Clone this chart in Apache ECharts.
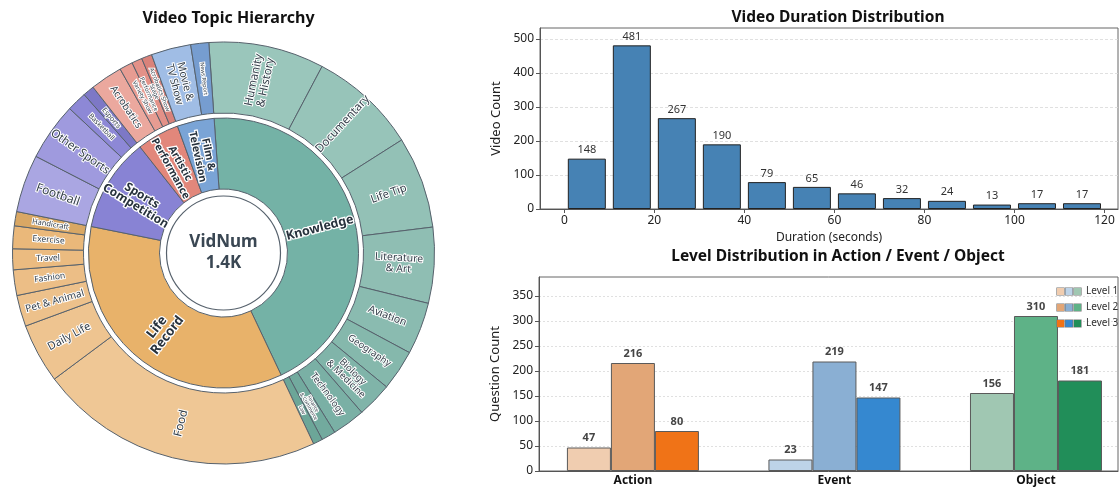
<!DOCTYPE html>
<html>
<head>
<meta charset="utf-8">
<script src="https://cdn.jsdelivr.net/npm/echarts@6/dist/echarts.min.js"></script>
<style>
  html, body { margin: 0; padding: 0; background: #fff; }
  #chart { width: 1119px; height: 491px; }
</style>
</head>
<body>
<div id="chart"></div>
<script>
// ---- Topic hierarchy (video counts per sub-topic) ----
const topicNames = ['Knowledge', 'Life\nRecord', 'Sports\nCompetition', 'Artistic\nPerformance', 'Film &\nTelevision'];

const knowledgeNames = ['Humanity\n& History', 'Documentary', 'Life Tip', 'Literature\n& Art', 'Aviation',
  'Geography', 'Biology\n& Medicine', 'Technology', 'Finance\n& Commerce', 'Law'];
const knowledgeCounts = [122, 114, 97, 80, 55, 43, 37, 35, 15, 10];

const lifeNames = ['Food', 'Daily Life', 'Pet & Animal', 'Fashion', 'Travel', 'Exercise', 'Handicraft'];
const lifeCounts = [301, 63, 33, 27, 22, 24, 15];

const sportsNames = ['Football', 'Other Sports', 'Basketball', 'Esports'];
const sportsCounts = [61, 61, 21, 12];

const artNames = ['Acrobatics', 'Variety Show', 'Stage\nPerformance', 'Acrobatics Show'];
const artCounts = [34, 14, 11, 11];

const filmNames = ['Movie &\nTV Show', 'News Report'];
const filmCounts = [42, 19];

// ---- Duration histogram ----
const durationBinCenters = [5, 15, 25, 35, 45, 55, 65, 75, 85, 95, 105, 115];
const durationCounts = [148, 481, 267, 190, 79, 65, 46, 32, 24, 13, 17, 17];
const durationTicks = [0, 20, 40, 60, 80, 100, 120];
const durationCountTicks = [0, 100, 200, 300, 400, 500];

// ---- Question levels per category ----
const levelCategories = ['Action', 'Event', 'Object'];
const levelNames = ['Level 1', 'Level 2', 'Level 3'];
const level1Counts = [47, 23, 156];
const level2Counts = [216, 219, 310];
const level3Counts = [80, 147, 181];
const questionTicks = [0, 50, 100, 150, 200, 250, 300, 350];

// ---- Styling ----
const FONT = "'Noto Sans', 'Open Sans', sans-serif";
const EDGE = '#56616c';
const INK = '#2f3a45';

const topicColors = ['#74b2a6', '#e8b26a', '#8883d4', '#e2877b', '#7aa4d6'];
const topicFont = [12.5, 13, 12, 10.5, 10.5];
const knowledgeColors = ['#9ac6bb', '#97c4b9', '#93c1b6', '#8fbeb3', '#8abbb0', '#85b8ac', '#80b4a9', '#7ab0a5', '#72aa9e', '#6ca698'];
const lifeColors = ['#efc795', '#eec490', '#edc18b', '#ecbe86', '#ebbb80', '#eab87a', '#d9a764'];
const sportsColors = ['#aaa6e2', '#9f9ade', '#8d88d6', '#7d78c6'];
const artColors = ['#eba89e', '#e79c92', '#e39188', '#d9827a'];
const filmColors = ['#a0bde5', '#769dd0'];

const knowledgeFont = [11.5, 11.5, 11, 10.5, 10.5, 9.5, 9.5, 9.5, 5, 5];
const lifeFont = [11.5, 11, 10, 8.5, 8.5, 8.5, 7.5];
const sportsFont = [12, 11.5, 7, 7];
const artFont = [10, 6, 6, 6];
const filmFont = [10.5, 5.5];

const levelColors = [
  ['#f0cdb0', '#bdd3e8', '#a0c7b2'],
  ['#e2a677', '#8aafd3', '#5eb287'],
  ['#f07317', '#3588d0', '#218e59']
];

function children(names, counts, colors, fonts) {
  return names.map((n, i) => ({
    name: n,
    value: counts[i],
    itemStyle: { color: colors[i] },
    label: { fontSize: fonts[i] }
  }));
}

const groups = [
  children(knowledgeNames, knowledgeCounts, knowledgeColors, knowledgeFont),
  children(lifeNames, lifeCounts, lifeColors, lifeFont),
  children(sportsNames, sportsCounts, sportsColors, sportsFont),
  children(artNames, artCounts, artColors, artFont),
  children(filmNames, filmCounts, filmColors, filmFont)
];

const sunData = topicNames.map((n, i) => ({
  name: n,
  itemStyle: { color: topicColors[i] },
  label: { fontSize: topicFont[i] },
  children: groups[i]
}));

const totalVideos = [knowledgeCounts, lifeCounts, sportsCounts, artCounts, filmCounts]
  .reduce((s, arr) => s + arr.reduce((a, b) => a + b, 0), 0);

const CENTER = [223.5, 253];

const chart = echarts.init(document.getElementById('chart'), null, { renderer: 'canvas' });

function levelSeries(idx, counts) {
  return {
    type: 'bar',
    name: levelNames[idx],
    xAxisIndex: 1,
    yAxisIndex: 1,
    barWidth: 44,
    barGap: '0%',
    data: counts.map((v, i) => ({
      value: [i, v],
      itemStyle: { color: levelColors[idx][i] }
    })),
    itemStyle: { borderColor: '#5a5a5a', borderWidth: 1, color: levelColors[idx][1] },
    label: {
      show: true, position: 'top', distance: 4,
      formatter: p => p.value[1],
      fontFamily: FONT, fontSize: 11, fontWeight: 'bold', color: '#454545'
    },
    emphasis: { disabled: true },
    silent: true
  };
}

const legendRich = { s: { width: 1.5 } };
levelNames.forEach((n, li) => {
  levelColors[li].forEach((c, ci) => {
    legendRich['c' + li + ci] = {
      width: 7, height: 7, backgroundColor: c, borderColor: '#777', borderWidth: 0.6
    };
  });
});
legendRich.t = { fontFamily: FONT, fontSize: 10, color: '#333', padding: [0, 0, 0, 5] };

const option = {
  animation: false,
  textStyle: { fontFamily: FONT },
  title: [
    { text: 'Video Topic Hierarchy', left: CENTER[0], top: 5, textAlign: 'center',
      textStyle: { fontFamily: FONT, fontSize: 16, fontWeight: 'bold', color: '#111' } },
    { text: 'Video Duration Distribution', left: 833, top: 5, textAlign: 'center',
      textStyle: { fontFamily: FONT, fontSize: 15.5, fontWeight: 'bold', color: '#111' } },
    { text: 'Level Distribution in Action / Event / Object', left: 833, top: 244, textAlign: 'center',
      textStyle: { fontFamily: FONT, fontSize: 15.5, fontWeight: 'bold', color: '#111' } }
  ],
  legend: {
    data: levelNames,
    orient: 'vertical',
    left: 1051,
    top: 284,
    itemWidth: 0,
    itemHeight: 0,
    itemGap: 1,
    padding: 0,
    selectedMode: false,
    formatter: name => {
      const li = levelNames.indexOf(name);
      return `{c${li}0|}{s|}{c${li}1|}{s|}{c${li}2|}{t|${name}}`;
    },
    textStyle: { rich: legendRich, lineHeight: 15, width: 70, overflow: 'none' }
  },
  grid: [
    { left: 540, right: 1, top: 28, bottom: 282, show: true, borderColor: '#666', borderWidth: 1 },
    { left: 539, right: 1, top: 277, bottom: 20, show: true, borderColor: '#666', borderWidth: 1 }
  ],
  xAxis: [
    {
      type: 'value', gridIndex: 0, min: -5.4, max: 123,
      name: 'Duration (seconds)', nameLocation: 'middle', nameGap: 23,
      nameTextStyle: { fontFamily: FONT, fontSize: 12, color: '#222' },
      axisLine: { show: true, onZero: false, lineStyle: { color: '#555' } },
      axisTick: { show: true, length: 4, customValues: durationTicks, lineStyle: { color: '#555' } },
      axisLabel: { customValues: durationTicks, fontFamily: FONT, fontSize: 12, color: '#222', margin: 6 },
      splitLine: { show: false }
    },
    {
      type: 'value', gridIndex: 1, min: -0.466, max: 2.407,
      axisLine: { show: true, onZero: false, lineStyle: { color: '#555' } },
      axisTick: { show: false, customValues: [0, 1, 2] },
      axisLabel: {
        customValues: [0, 1, 2],
        formatter: v => levelCategories[Math.round(v)],
        fontFamily: FONT, fontSize: 12, fontWeight: 'bold', color: '#111', margin: 4
      },
      splitLine: { show: false }
    }
  ],
  yAxis: [
    {
      type: 'value', gridIndex: 0, min: 0, max: 532,
      name: 'Video Count', nameLocation: 'middle', nameGap: 29,
      nameTextStyle: { fontFamily: FONT, fontSize: 13, color: '#222' },
      axisLine: { show: true, onZero: false, lineStyle: { color: '#555' } },
      axisTick: { show: true, length: 4, customValues: durationCountTicks, lineStyle: { color: '#555' } },
      axisLabel: { customValues: durationCountTicks, fontFamily: FONT, fontSize: 12, color: '#222', margin: 6 },
      splitLine: { show: true, lineStyle: { color: '#d8d8d8', type: [3, 2], width: 0.8 } }
    },
    {
      type: 'value', gridIndex: 1, min: 0, max: 388,
      name: 'Question Count', nameLocation: 'middle', nameGap: 27,
      nameTextStyle: { fontFamily: FONT, fontSize: 13, color: '#222' },
      axisLine: { show: true, onZero: false, lineStyle: { color: '#555' } },
      axisTick: { show: true, length: 4, customValues: questionTicks, lineStyle: { color: '#555' } },
      axisLabel: { customValues: questionTicks, fontFamily: FONT, fontSize: 12, color: '#222', margin: 6 },
      splitLine: { show: true, lineStyle: { color: '#d8d8d8', type: [2, 2], width: 0.8 } }
    }
  ],
  series: [
    {
      type: 'sunburst',
      center: CENTER,
      startAngle: 94,
      clockwise: true,
      sort: null,
      nodeClick: false,
      emphasis: { disabled: true },
      data: sunData,
      itemStyle: { borderColor: EDGE, borderWidth: 1 },
      label: {
        rotate: 'radial', color: INK, fontFamily: FONT,
        textBorderColor: '#fff', textBorderWidth: 2
      },
      levels: [
        {},
        { r0: 64, r: 135,
          label: { fontWeight: 'bold', color: '#27323d', textBorderWidth: 2.5 } },
        { r0: 140, r: 211,
          label: { fontWeight: 'normal', color: '#36414c' } }
      ]
    },
    {
      type: 'pie',
      center: CENTER,
      radius: [0, 57],
      silent: true,
      data: [{ value: totalVideos, name: 'VidNum' }],
      itemStyle: { color: '#fff', borderColor: EDGE, borderWidth: 1.2 },
      labelLine: { show: false },
      label: {
        show: true, position: 'center',
        formatter: 'VidNum\n' + (totalVideos / 1000).toFixed(1) + 'K',
        fontFamily: FONT, fontSize: 17, fontWeight: 'bold', color: '#3a4753',
        lineHeight: 21, textBorderColor: '#fff', textBorderWidth: 3
      }
    },
    {
      type: 'bar',
      xAxisIndex: 0,
      yAxisIndex: 0,
      barWidth: 38,
      data: durationBinCenters.map((x, i) => [x, durationCounts[i]]),
      itemStyle: { color: '#4682b4', borderColor: '#222', borderWidth: 1 },
      label: {
        show: true, position: 'top', distance: 3,
        formatter: p => p.value[1],
        fontFamily: FONT, fontSize: 11, color: '#333'
      },
      emphasis: { disabled: true },
      silent: true
    },
    levelSeries(0, level1Counts),
    levelSeries(1, level2Counts),
    levelSeries(2, level3Counts)
  ]
};

chart.setOption(option);
</script>
</body>
</html>
